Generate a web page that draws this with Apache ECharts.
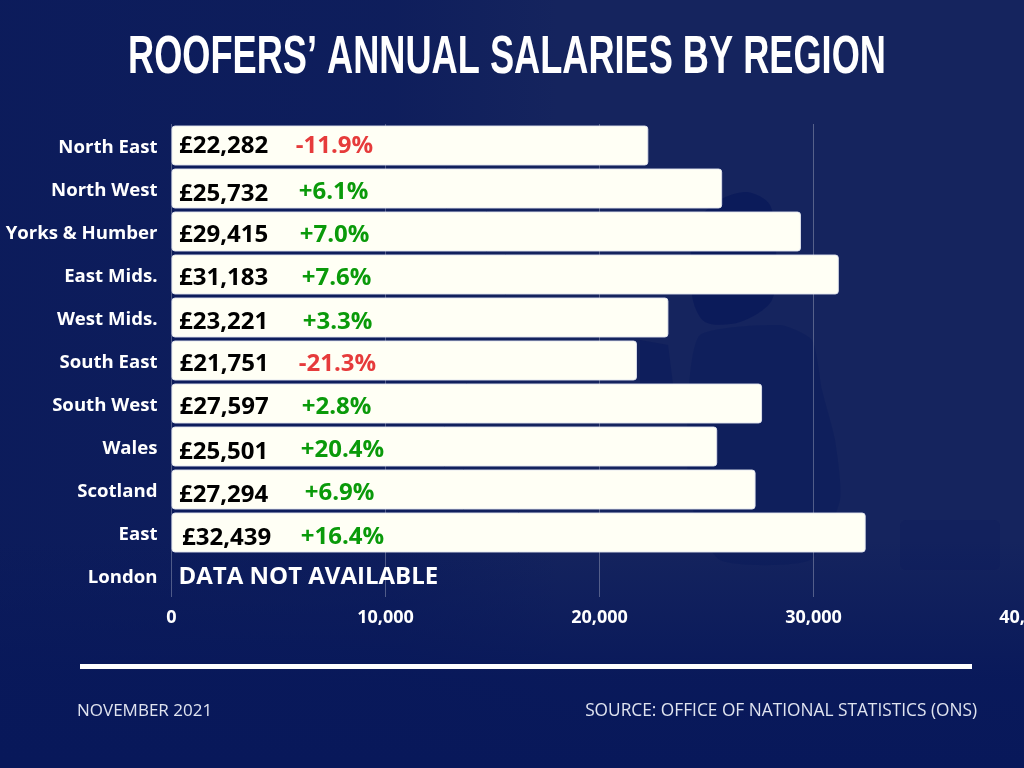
<!DOCTYPE html>
<html>
<head>
<meta charset="utf-8">
<title>Roofers' annual salaries by region</title>
<style>
  html, body { margin: 0; padding: 0; background: #0a1a5c; }
  #box { width: 1024px; height: 768px; }
</style>
<script src="https://cdn.jsdelivr.net/npm/echarts@6/dist/echarts.min.js"></script>
</head>
<body>
<div id="box"></div>
<script>
// data
var regions = ['North East', 'North West', 'Yorks & Humber', 'East Mids.', 'West Mids.', 'South East', 'South West', 'Wales', 'Scotland', 'East', 'London'];
var salaries = [22282, 25732, 29415, 31183, 23221, 21751, 27597, 25501, 27294, 32439, null];
var changes = [-11.9, 6.1, 7.0, 7.6, 3.3, -21.3, 2.8, 20.4, 6.9, 16.4, null];
var axisTicks = [0, 10000, 20000, 30000, 40000];
var noDataText = 'DATA NOT AVAILABLE';

// label nudges, the original has them hand placed
var salaryLeft = [7.5, 7.5, 7.5, 7.5, 7.5, 8, 8, 7.5, 7.5, 10.5, 7.5];
var salaryDy = [1, 6, 4, 4, 5, 4, 4, 6, 6, 6];
var changeMid = [163, 162, 163, 165, 166, 166, 165, 171, 168, 171];
var changeDy = [1, 4, 4, 4, 5, 4, 4, 4, 4, 5];

var font = '"Open Sans", "Noto Sans", sans-serif';

function money(v) {
  return '£' + v.toLocaleString('en-GB');
}

function pct(v) {
  return (v > 0 ? '+' : '') + v.toFixed(1) + '%';
}

var chart = echarts.init(document.getElementById('box'));

var option = {
  animation: false,
  backgroundColor: '#15245e',
  title: [
    {
      text: 'NOVEMBER 2021',
      left: 77, top: 703, padding: 0,
      textStyle: { color: '#e0e4f0', fontFamily: font, fontWeight: 'normal', fontSize: 17 }
    },
    {
      text: 'SOURCE: OFFICE OF NATIONAL STATISTICS (ONS)',
      right: 47, top: 703, padding: 0,
      textStyle: { color: '#e0e4f0', fontFamily: font, fontWeight: 'normal', fontSize: 17.3 }
    }
  ],
  graphic: [
    // faint backdrop: dark left side and bottom, worker silhouette
    {
      type: 'rect', silent: true, z: -10,
      shape: { x: 0, y: 0, width: 560, height: 768 },
      style: {
        fill: {
          type: 'linear', x: 0, y: 0, x2: 1, y2: 0,
          colorStops: [
            { offset: 0, color: 'rgba(8,24,90,0.7)' },
            { offset: 0.7, color: 'rgba(8,24,90,0.5)' },
            { offset: 1, color: 'rgba(8,24,90,0)' }
          ]
        }
      }
    },
    {
      type: 'rect', silent: true, z: -9,
      shape: { x: 0, y: 540, width: 1024, height: 228 },
      style: {
        fill: {
          type: 'linear', x: 0, y: 0, x2: 0, y2: 1,
          colorStops: [
            { offset: 0, color: 'rgba(8,24,90,0)' },
            { offset: 0.6, color: 'rgba(8,24,90,0.9)' },
            { offset: 1, color: 'rgba(8,24,90,1)' }
          ]
        }
      }
    },
    {
      type: 'polygon', silent: true, z: -8,
      shape: {
        smooth: 0.3,
        points: [[747, 192], [770, 205], [776, 250], [772, 300], [740, 322], [705, 322], [692, 295], [695, 225], [720, 200]]
      },
      style: { fill: 'rgba(8,24,90,0.75)' }
    },
    {
      type: 'polygon', silent: true, z: -8,
      shape: {
        smooth: 0.2,
        points: [[700, 335], [780, 325], [812, 340], [822, 390], [835, 440], [840, 500], [810, 560], [720, 560], [690, 500], [688, 400]]
      },
      style: { fill: 'rgba(8,24,90,0.4)' }
    },
    {
      type: 'polygon', silent: true, z: -8,
      shape: { points: [[640, 340], [668, 345], [675, 400], [640, 400]] },
      style: { fill: 'rgba(8,24,90,0.5)' }
    },
    {
      type: 'rect', silent: true, z: -8,
      shape: { x: 900, y: 520, width: 100, height: 50, r: 6 },
      style: { fill: 'rgba(8,24,90,0.22)' }
    },
    // title, squeezed since no condensed face is installed
    {
      type: 'text', z: 5, x: 507, y: 31, scaleX: 0.67, originX: 0, originY: 0,
      style: {
        text: 'ROOFERS’ ANNUAL SALARIES BY REGION',
        fill: '#fff', align: 'center', verticalAlign: 'top',
        font: 'bold 54px "Liberation Sans", sans-serif'
      }
    },
    { type: 'rect', z: 5, shape: { x: 80, y: 664, width: 892, height: 5 }, style: { fill: '#fff' } }
  ],
  grid: { left: 171.5, top: 124, width: 856, height: 473, outerBoundsMode: 'none' },
  xAxis: {
    type: 'value',
    min: axisTicks[0],
    max: axisTicks[axisTicks.length - 1],
    interval: axisTicks[1],
    axisLine: { show: false },
    axisTick: { show: false },
    splitLine: { show: true, lineStyle: { color: 'rgba(255,255,255,0.28)', width: 1 } },
    axisLabel: {
      color: '#fff', fontFamily: font, fontWeight: 'bold', fontSize: 18, margin: 12,
      showMaxLabel: true, hideOverlap: false,
      formatter: function (v) { return v.toLocaleString('en-GB'); }
    }
  },
  yAxis: {
    type: 'category',
    inverse: true,
    data: regions,
    axisLine: { show: false },
    axisTick: { show: false },
    axisLabel: { color: '#fff', fontFamily: font, fontWeight: 'bold', fontSize: 18.6, margin: 14, verticalAlign: 'top', lineHeight: 4 }
  },
  series: [
    {
      name: 'Salary',
      type: 'bar',
      barWidth: 40,
      barGap: '-100%',
      itemStyle: { color: '#fffff5', borderRadius: 3, borderColor: 'rgba(225,228,240,0.9)', borderWidth: 1 },
      data: salaries.map(function (v, i) {
        return {
          value: v,
          label: {
            show: v != null,
            position: [salaryLeft[i], 20 + (salaryDy[i] || 0)],
            verticalAlign: 'middle',
            formatter: v == null ? '' : money(v),
            color: '#000', fontFamily: font, fontWeight: 'bold', fontSize: 24
          }
        };
      })
    },
    {
      name: 'Change',
      type: 'bar',
      barWidth: 40,
      barGap: '-100%',
      silent: true,
      itemStyle: { color: 'transparent' },
      data: salaries.map(function (v, i) {
        if (v == null) {
          return {
            value: 0,
            label: {
              show: true, position: [7, 22], verticalAlign: 'middle', formatter: noDataText,
              color: '#fff', fontFamily: font, fontWeight: 'bold', fontSize: 24
            }
          };
        }
        return {
          value: v,
          label: {
            show: true,
            position: [changeMid[i], 20 + changeDy[i]],
            align: 'center', verticalAlign: 'middle',
            formatter: pct(changes[i]),
            color: changes[i] < 0 ? '#e63b3b' : '#0a9a0a',
            fontFamily: font, fontWeight: 'bold', fontSize: 24
          }
        };
      })
    }
  ]
};

chart.setOption(option);
</script>
</body>
</html>
